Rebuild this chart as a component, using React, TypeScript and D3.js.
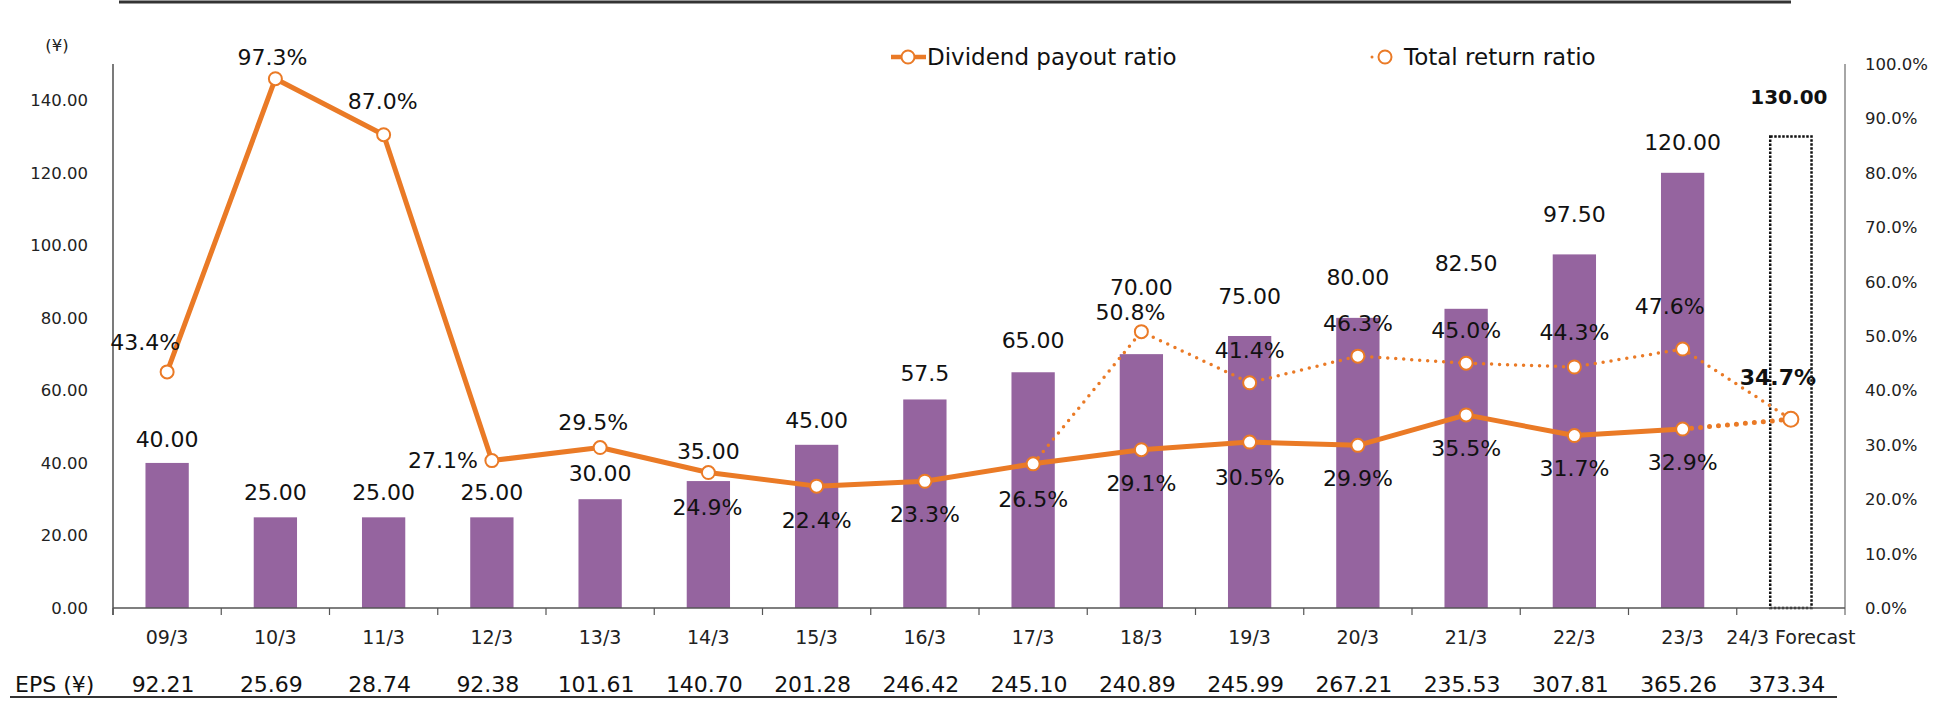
import React from 'react';
import * as d3 from 'd3';

const categories = ['09/3', '10/3', '11/3', '12/3', '13/3', '14/3', '15/3', '16/3', '17/3', '18/3', '19/3', '20/3', '21/3', '22/3', '23/3', '24/3 Forecast'];
const dividend = [40, 25, 25, 25, 30, 35, 45, 57.5, 65, 70, 75, 80, 82.5, 97.5, 120];
const dividendText = ['40.00', '25.00', '25.00', '25.00', '30.00', '35.00', '45.00', '57.5', '65.00', '70.00', '75.00', '80.00', '82.50', '97.50', '120.00'];
const forecastDividend = 130;
const forecastDividendText = '130.00';
const payoutRatio = [43.4, 97.3, 87.0, 27.1, 29.5, 24.9, 22.4, 23.3, 26.5, 29.1, 30.5, 29.9, 35.5, 31.7, 32.9];
const forecastRatio = 34.7;
// total return only from 17/3; the last point is the forecast
const totalReturn: (number | null)[] = [null, null, null, null, null, null, null, null, 26.5, 50.8, 41.4, 46.3, 45.0, 44.3, 47.6, 34.7];
const totalReturnShown = [false, false, false, false, false, false, false, false, false, true, true, true, true, true, true, false];
const eps = ['92.21', '25.69', '28.74', '92.38', '101.61', '140.70', '201.28', '246.42', '245.10', '240.89', '245.99', '267.21', '235.53', '307.81', '365.26', '373.34'];
const leftTicks = [0, 20, 40, 60, 80, 100, 120, 140];
const rightTicks = [0, 10, 20, 30, 40, 50, 60, 70, 80, 90, 100];

// label nudges (px), hand placed in the original
const barLabelDy = [-24, -25, -25, -25, -26, -30, -25, -26, -32, -67, -40, -41, -46, -40, -31];
const payoutLabelOff = [[-22, -30], [-3, -22], [-1, -34], [-49, 0], [-7, -25], [-1, 35], [0, 34], [0, 33], [0, 35], [0, 33], [0, 35], [0, 33], [0, 33], [0, 33], [0, 33]];
const totalLabelOff = [[0, 0], [0, 0], [0, 0], [0, 0], [0, 0], [0, 0], [0, 0], [0, 0], [0, 0], [-11, -20], [0, -33], [0, -33], [0, -33], [0, -35], [-13, -43], [0, 0]];

const W = 1943;
const H = 701;
const ORANGE = '#EA7A26';
const PURPLE = '#95649F';
const FONT = '"DejaVu Sans", Verdana, sans-serif';

const App = () => {
  const x = d3.scaleBand().domain(categories).range([113, 1845]);
  const yL = d3.scaleLinear().domain([0, 150]).range([608, 64]);
  const yR = d3.scaleLinear().domain([0, 100]).range([608, 64]);
  const cx = (i: number) => (x(categories[i]) as number) + x.bandwidth() / 2;
  const barW = x.bandwidth() * 0.4;

  const payoutLine = d3.line<number>().x((d, i) => cx(i)).y(d => yR(d));
  const forecastLine = d3.line<number>().x((d, i) => cx(i + 14)).y(d => yR(d));
  const totalLine = d3.line<number | null>()
    .defined(d => d !== null)
    .x((d, i) => cx(i))
    .y(d => yR(d as number));

  const fi = categories.length - 1;

  return (
    <svg width={W} height={H} style={{ position: 'absolute', left: 0, top: 0, background: '#fff' }} fontFamily={FONT}>
      {/* top rule */}
      <line x1={119} x2={1791} y1={2} y2={2} stroke="#333" strokeWidth={3} />

      {/* unit */}
      <text x={57} y={45} dy="0.36em" fontSize={16.5} textAnchor="middle" fill="#222">(¥)</text>

      {/* left axis */}
      <line x1={113} x2={113} y1={64} y2={615} stroke="#222" strokeWidth={1.2} />
      {leftTicks.map(t => (
        <text key={t} x={88} y={yL(t)} dy="0.36em" fontSize={16.5} textAnchor="end" fill="#222">{t.toFixed(2)}</text>
      ))}

      {/* right axis */}
      <line x1={1845} x2={1845} y1={64} y2={615} stroke="#888" strokeWidth={1.5} />
      {rightTicks.map(t => (
        <text key={t} x={1865} y={yR(t)} dy="0.36em" fontSize={16.5} textAnchor="start" fill="#222">{t.toFixed(1)}%</text>
      ))}

      {/* bars */}
      {dividend.map((d, i) => (
        <rect key={i} x={cx(i) - barW / 2} y={yL(d)} width={barW} height={yL(0) - yL(d)} fill={PURPLE} />
      ))}
      <rect x={cx(fi) - barW / 2 + 1} y={yL(forecastDividend)} width={barW - 2} height={yL(0) - yL(forecastDividend)}
        fill="none" stroke="#111" strokeWidth={2.5} strokeDasharray="2.5 1.5" />

      {/* x axis */}
      <line x1={113} x2={1845} y1={608} y2={608} stroke="#555" strokeWidth={1.5} />
      {categories.map((c, i) => (
        <line key={c} x1={x(c) as number} x2={x(c) as number} y1={608} y2={615} stroke="#555" strokeWidth={1.2} />
      ))}
      {categories.map((c, i) => (
        <text key={c} x={cx(i)} y={637} dy="0.36em" fontSize={19} textAnchor="middle" fill="#222">{c}</text>
      ))}

      {/* total return ratio (dotted) */}
      <path d={totalLine(totalReturn) || ''} fill="none" stroke={ORANGE} strokeWidth={3.5}
        strokeDasharray="0 8" strokeLinecap="round" />

      {/* dividend payout ratio */}
      <path d={payoutLine(payoutRatio) || ''} fill="none" stroke={ORANGE} strokeWidth={5} strokeLinejoin="round" />
      <path d={forecastLine([payoutRatio[14], forecastRatio]) || ''} fill="none" stroke={ORANGE} strokeWidth={5}
        strokeDasharray="0 9" strokeLinecap="round" />

      {totalReturn.map((d, i) => (d !== null && totalReturnShown[i] ? (
        <circle key={'t' + i} cx={cx(i)} cy={yR(d)} r={6.5} fill="#fff" stroke={ORANGE} strokeWidth={2} />
      ) : null))}
      {payoutRatio.map((d, i) => (
        <circle key={'p' + i} cx={cx(i)} cy={yR(d)} r={6.5} fill="#fff" stroke={ORANGE} strokeWidth={2} />
      ))}
      <circle cx={cx(fi)} cy={yR(forecastRatio)} r={7.5} fill="#fff" stroke={ORANGE} strokeWidth={2} />

      {/* bar labels */}
      {dividend.map((d, i) => (
        <text key={'bl' + i} x={cx(i)} y={yL(d) + barLabelDy[i]} dy="0.36em" fontSize={22} textAnchor="middle" fill="#111">{dividendText[i]}</text>
      ))}
      <text x={cx(fi) - 2} y={yL(forecastDividend) - 40} dy="0.36em" fontSize={20} fontWeight="bold" textAnchor="middle" fill="#111">{forecastDividendText}</text>

      {/* ratio labels */}
      {payoutRatio.map((d, i) => (
        <text key={'pl' + i} x={cx(i) + payoutLabelOff[i][0]} y={yR(d) + payoutLabelOff[i][1]} dy="0.36em" fontSize={22}
          textAnchor="middle" fill="#111">{d.toFixed(1)}%</text>
      ))}
      {totalReturn.map((d, i) => (d !== null && totalReturnShown[i] ? (
        <text key={'tl' + i} x={cx(i) + totalLabelOff[i][0]} y={yR(d) + totalLabelOff[i][1]} dy="0.36em" fontSize={22}
          textAnchor="middle" fill="#111">{d.toFixed(1)}%</text>
      ) : null))}
      <text x={cx(fi) - 13} y={yR(forecastRatio) - 42} dy="0.36em" fontSize={22} fontWeight="bold" textAnchor="middle" fill="#111">{forecastRatio.toFixed(1)}%</text>

      {/* legend */}
      <g>
        <line x1={891} x2={926} y1={57} y2={57} stroke={ORANGE} strokeWidth={4.5} />
        <circle cx={908} cy={57} r={6.5} fill="#fff" stroke={ORANGE} strokeWidth={2} />
        <text x={927} y={57} dy="0.36em" fontSize={23} fill="#111">Dividend payout ratio</text>
        <line x1={1372} x2={1398} y1={57} y2={57} stroke={ORANGE} strokeWidth={3} strokeDasharray="0 26" strokeLinecap="round" />
        <circle cx={1385} cy={57} r={6.5} fill="#fff" stroke={ORANGE} strokeWidth={2} />
        <text x={1404} y={57} dy="0.36em" fontSize={23} fill="#111">Total return ratio</text>
      </g>

      {/* EPS row */}
      <text x={15} y={684} dy="0.36em" fontSize={22} fill="#111">EPS (¥)</text>
      {eps.map((e, i) => (
        <text key={'e' + i} x={cx(i) - 4} y={684} dy="0.36em" fontSize={22} textAnchor="middle" fill="#111">{e}</text>
      ))}
      <line x1={10} x2={1837} y1={697} y2={697} stroke="#333" strokeWidth={2} />
    </svg>
  );
};

export default App;
